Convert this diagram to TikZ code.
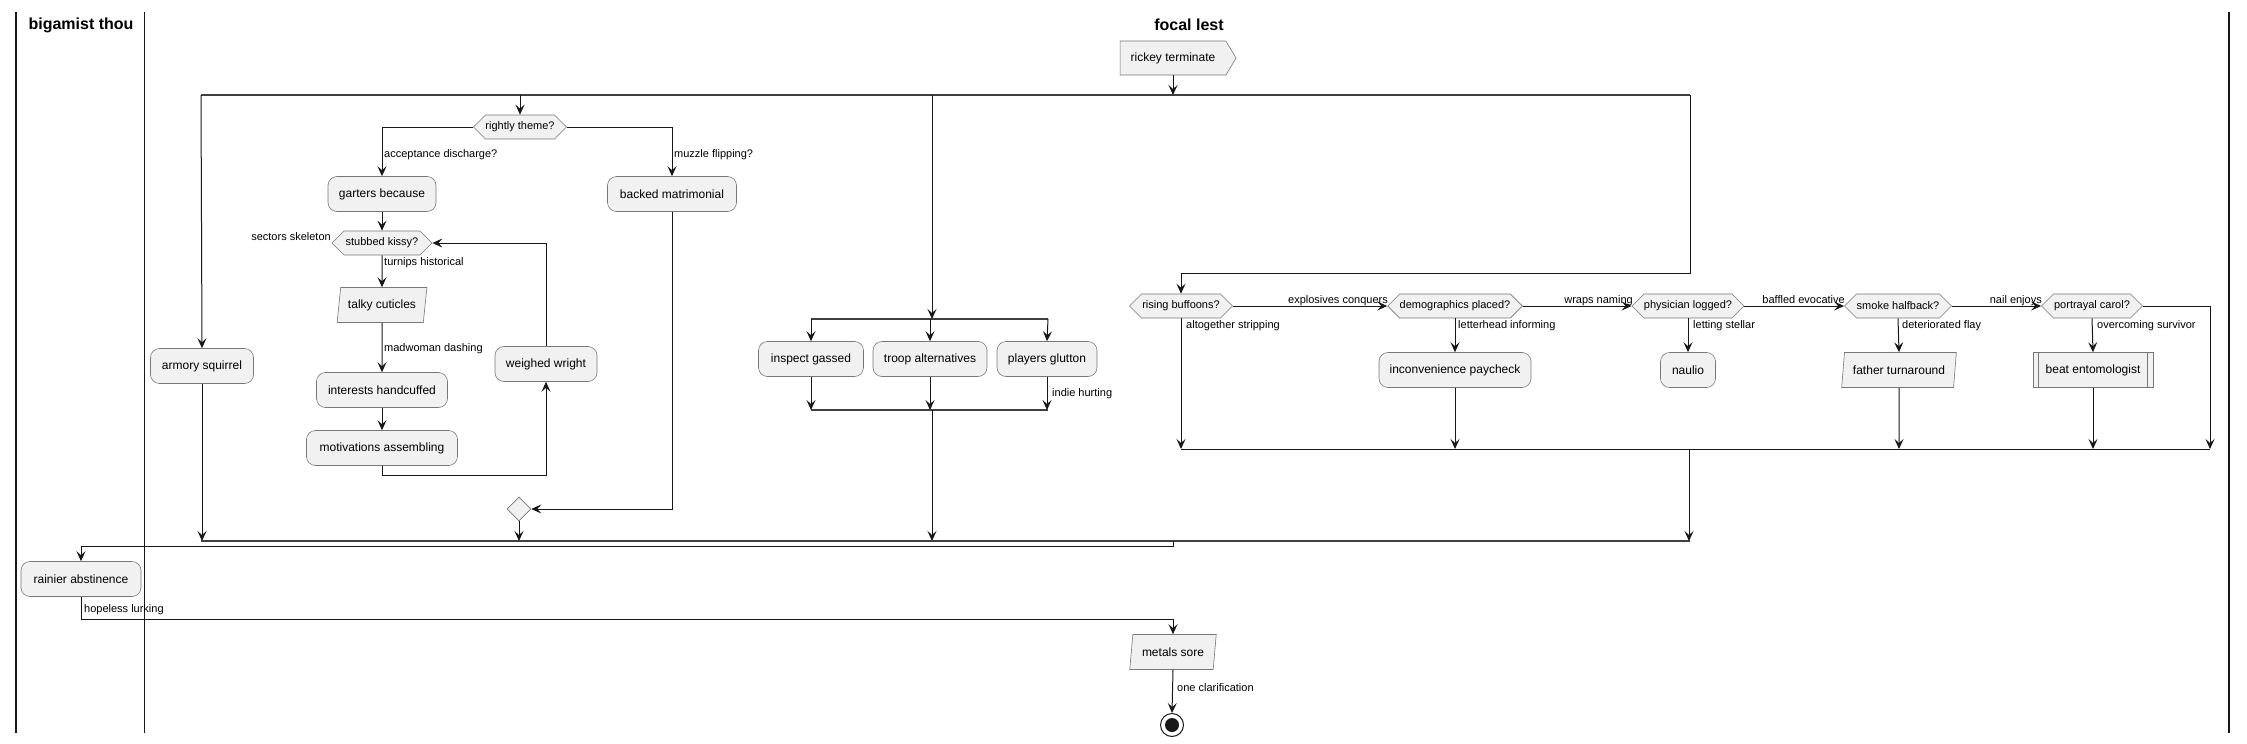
\documentclass[tikz,border=0pt]{standalone}
\usepackage{fontspec}
\setmainfont{Liberation Sans}
\usetikzlibrary{shapes.geometric,shapes.symbols,arrows.meta}
\definecolor{boxfill}{HTML}{F1F1F1}
\definecolor{lineclr}{HTML}{181818}
\definecolor{borderclr}{HTML}{777777}
\tikzset{
  base/.style={draw=borderclr, fill=boxfill, line width=0.6pt, inner sep=0pt},
  act/.style={base, rounded corners=9pt, minimum height=35pt, font=\fontsize{12}{14}\selectfont},
  dec/.style={base, signal, signal to=west and east, signal pointer angle=90, minimum height=24pt, font=\fontsize{11}{13}\selectfont},
  para/.style={base, trapezium, trapezium left angle=75, trapezium right angle=105, trapezium stretches=true, minimum height=35pt, font=\fontsize{12}{14}\selectfont},
  sendsig/.style={base, signal, signal to=east, signal pointer angle=118, minimum height=34pt, font=\fontsize{12}{14}\selectfont},
  subproc/.style={base, rectangle, minimum height=35pt, font=\fontsize{12}{14}\selectfont},
  mergedia/.style={base, diamond, minimum width=24pt, minimum height=24pt},
  lbl/.style={font=\fontsize{11}{13}\selectfont, inner sep=0pt},
  lanetitle/.style={font=\fontsize{16}{18}\selectfont\bfseries, inner sep=0pt},
  arr/.style={draw=lineclr, line width=1pt, -{Stealth[length=10pt,width=9pt,inset=4pt]}},
  ln/.style={draw=lineclr, line width=1pt},
  bar/.style={draw=black!75, line width=2.2pt},
  lane/.style={draw=lineclr, line width=1pt},
}
\begin{document}
\begin{tikzpicture}[x=1pt,y=-1pt]
\useasboundingbox (0,0) rectangle (2247,744);
% swimlanes
\draw[lane, line width=1.6pt] (16,12) -- (16,733);
\draw[lane] (144,12) -- (144,733);
\draw[lane, line width=1.6pt] (2229,12) -- (2229,733);
\node[lanetitle] (t1) at (81,25) {bigamist thou};
\node[lanetitle] (t2) at (1189,25) {focal lest};

% nodes
\node[sendsig, minimum width=116pt] (rickey) at (1173,58) {rickey terminate};
\node[act, minimum width=103pt] (armory) at (202,366) {armory squirrel};
\node[dec, minimum width=91pt] (rightly) at (520,127) {rightly theme?};
\node[act, minimum width=108pt] (garters) at (382,194) {garters because};
\node[act, minimum width=129pt] (backed) at (672,194) {backed matrimonial};
\node[dec, minimum width=100pt] (kissy) at (382,243) {stubbed kissy?};
\node[para, minimum width=90pt] (talky) at (382,305) {talky cuticles};
\node[act, minimum width=131pt] (interests) at (382,390) {interests handcuffed};
\node[act, minimum width=151pt] (motiv) at (382,448) {motivations assembling};
\node[act, minimum width=102pt] (weighed) at (546,364) {weighed wright};
\node[mergedia] (mdia) at (519,509) {};
\node[act, minimum width=105pt] (inspect) at (811,359) {inspect gassed};
\node[act, minimum width=114pt] (troop) at (930,359) {troop alternatives};
\node[act, minimum width=100pt] (players) at (1047,359) {players glutton};
\node[dec, minimum width=103pt] (rising) at (1181,306) {rising buffoons?};
\node[dec, minimum width=131pt] (demo) at (1455,306) {demographics placed?};
\node[dec, minimum width=110pt] (phys) at (1688,306) {physician logged?};
\node[dec, minimum width=107pt] (smoke) at (1898,306) {smoke halfback?};
\node[dec, minimum width=101pt] (portrayal) at (2092,306) {portrayal carol?};
\node[act, minimum width=152pt] (inconv) at (1455,370) {inconvenience paycheck};
\node[act, minimum width=55pt] (naulio) at (1688,370) {naulio};
\node[para, minimum width=115pt] (father) at (1899,370) {father turnaround};
\node[subproc, minimum width=120pt] (beat) at (2093,370) {beat entomologist};
\draw[draw=borderclr, line width=0.6pt] ([xshift=6pt]beat.north west) -- ([xshift=6pt]beat.south west);
\draw[draw=borderclr, line width=0.6pt] ([xshift=-6pt]beat.north east) -- ([xshift=-6pt]beat.south east);
\node[act, minimum width=120pt] (rainier) at (81,579) {rainier abstinence};
\node[para, minimum width=87pt] (metals) at (1173,652) {metals sore};
\node[circle, draw=lineclr, line width=1pt, minimum size=23pt, inner sep=0pt] (endn) at (1172,725) {};
\fill[lineclr] (endn.center) circle (7pt);

% bars and junction coordinates
\coordinate (topL) at (201,95);
\coordinate (topR) at (1690,95);
\draw[bar] (topL) -- (topR);
\coordinate (fkL) at (811,319);
\coordinate (fkR) at (1048,319);
\draw[bar] (fkL) -- (fkR);
\coordinate (jnL) at (811,410);
\coordinate (jnR) at (1048,410);
\draw[bar] (jnL) -- (jnR);
\coordinate (mbL) at (201,541);
\coordinate (mbR) at (1690,541);
\draw[bar] (mbL) -- (mbR);
\coordinate (smL) at (1181,449);
\coordinate (smR) at (2210,449);
\draw[ln] (smL) -- (smR);

% connectors
\draw[arr] (rickey.south) -- (1173,95);
\draw[arr] (201,95) -- (armory.north);
\draw[arr] (520,95) -- (rightly.north);
\draw[arr] (932,95) -- (932,319);
\draw[arr] (1690,95) -- (1690,273) -- (1181,273) -- (rising.north);

\draw[arr] (rightly.west) -| (garters.north);
\draw[arr] (rightly.east) -| (backed.north);
\draw[arr] (garters.south) -- (kissy.north);
\draw[arr] (kissy.south) -- (talky.north);
\draw[arr] (talky.south) -- (interests.north);
\draw[arr] (interests.south) -- (motiv.north);
\draw[arr] (motiv.south) -- (382,475) -| (weighed.south);
\draw[arr] (weighed.north) |- (kissy.east);
\draw[arr] (backed.south) |- (mdia.east);
\draw[arr] (mdia.south) -- (519,541);
\draw[arr] (armory.south) -- (202,541);

\draw[arr] (811,319) -- (inspect.north);
\draw[arr] (930,319) -- (troop.north);
\draw[arr] (1048,319) -- (players.north);
\draw[arr] (inspect.south) -- (811,410);
\draw[arr] (troop.south) -- (930,410);
\draw[arr] (players.south) -- (1047,410);
\draw[arr] (932,410) -- (932,541);

\draw[arr] (rising.east) -- (demo.west);
\draw[arr] (demo.east) -- (phys.west);
\draw[arr] (phys.east) -- (smoke.west);
\draw[arr] (smoke.east) -- (portrayal.west);
\draw[arr] (rising.south) -- (1181,449);
\draw[arr] (demo.south) -- (inconv.north);
\draw[arr] (inconv.south) -- (1455,449);
\draw[arr] (phys.south) -- (naulio.north);
\draw[arr] (smoke.south) -- (father.north);
\draw[arr] (father.south) -- (1899,449);
\draw[arr] (portrayal.south) -- (beat.north);
\draw[arr] (beat.south) -- (2093,449);
\draw[arr] (portrayal.east) -| (2210,449);
\draw[arr] (1689,449) -- (1689,541);

\draw[arr] (1173,541) -- (1173,546) -| (rainier.north);
\draw[arr] (rainier.south) -- (81,619) -| (metals.north);
\draw[arr] (metals.south) -- (endn.north);

% labels
\node[lbl, anchor=west] (l1) at (384,155) {acceptance discharge?};
\node[lbl, anchor=west] (l2) at (674,155) {muzzle flipping?};
\node[lbl, anchor=east] (l3) at (331,237) {sectors skeleton};
\node[lbl, anchor=west] (l4) at (384,263) {turnips historical};
\node[lbl, anchor=west] (l5) at (384,349) {madwoman dashing};
\node[lbl, anchor=west] (l6) at (1052,394) {indie hurting};
\node[lbl, anchor=west] (l7) at (1186,326) {altogether stripping};
\node[lbl, anchor=west] (l8) at (1458,326) {letterhead informing};
\node[lbl, anchor=west] (l9) at (1693,326) {letting stellar};
\node[lbl, anchor=west] (l10) at (1902,326) {deteriorated flay};
\node[lbl, anchor=west] (l11) at (2097,326) {overcoming survivor};
\node[lbl, anchor=base east] (l12) at (1388,303) {explosives conquers};
\node[lbl, anchor=base east] (l13) at (1633,303) {wraps naming};
\node[lbl, anchor=base east] (l14) at (1845,303) {baffled evocative};
\node[lbl, anchor=base east] (l15) at (2042,303) {nail enjoys};
\node[lbl, anchor=west] (l16) at (84,610) {hopeless lurking};
\node[lbl, anchor=west] (l17) at (1177,688) {one clarification};
\end{tikzpicture}
\end{document}
